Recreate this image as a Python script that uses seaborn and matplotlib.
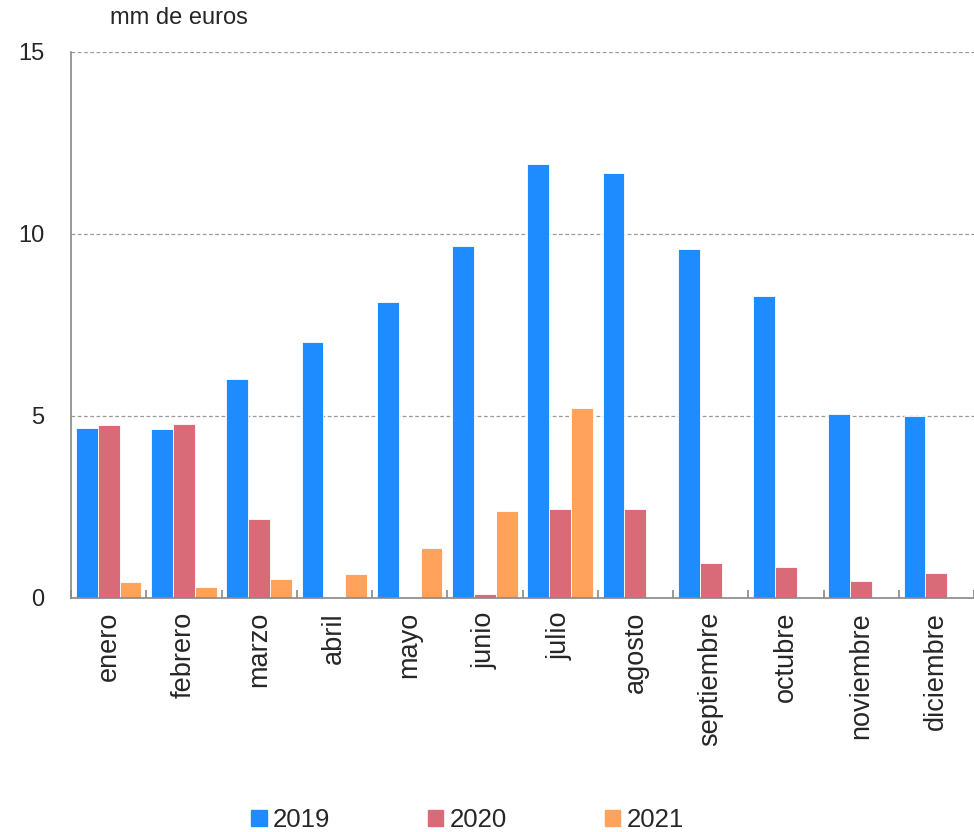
import matplotlib
matplotlib.use("Agg")
import matplotlib.pyplot as plt
import seaborn as sns
import pandas as pd

months = ["enero", "febrero", "marzo", "abril", "mayo", "junio", "julio",
          "agosto", "septiembre", "octubre", "noviembre", "diciembre"]
years = ["2019", "2020", "2021"]
v2019 = [4.67, 4.64, 6.02, 7.03, 8.13, 9.67, 11.92, 11.68, 9.59, 8.30, 5.05, 5.00]
v2020 = [4.75, 4.78, 2.17, 0.0, 0.0, 0.11, 2.45, 2.45, 0.96, 0.85, 0.47, 0.69]
v2021 = [0.44, 0.30, 0.52, 0.66, 1.37, 2.39, 5.22, 0.0, 0.0, 0.0, 0.0, 0.0]
colors = ["#1E8BFF", "#D96B78", "#FFA35C"]

rows = []
for y, vals in zip(years, [v2019, v2020, v2021]):
    for m, v in zip(months, vals):
        rows.append({"mes": m, "año": y, "valor": v})
df = pd.DataFrame(rows)

sns.set_theme(style="white")
plt.rcParams["font.family"] = ["Liberation Sans", "DejaVu Sans"]

fig = plt.figure(figsize=(9.74, 8.32), dpi=100)
ax = fig.add_axes([71/974, 1 - 598/832, (974 - 71)/974, (598 - 52)/832])

sns.barplot(data=df, x="mes", y="valor", hue="año", palette=colors,
            order=months, hue_order=years, width=0.87, ax=ax,
            edgecolor="white", linewidth=0.6, saturation=1, legend=True)

ax.set_xlim(-0.5, 11.5)
ax.set_ylim(0, 15)
ax.set_yticks([0, 5, 10, 15])
ax.set_yticklabels(["0", "5", "10", "15"], fontsize=17)
for y in [5, 10, 15]:
    ax.axhline(y, color="#9a9a9a", linestyle=(0, (3, 2)), linewidth=0.9, zorder=0)

ax.set_xticks([i + 0.5 for i in range(-1, 12)], minor=True)
ax.set_xticks(range(12))
ax.set_xticklabels(months, rotation=90, fontsize=19.5)
ax.tick_params(axis="x", which="major", length=0, pad=10)
ax.tick_params(axis="x", which="minor", direction="in", length=6, width=1.2, color="#888888", bottom=True)
ax.tick_params(axis="y", length=0, pad=19)
ax.set_xlabel("")
ax.set_ylabel("")

for s in ["top", "right"]:
    ax.spines[s].set_visible(False)
for s in ["left", "bottom"]:
    ax.spines[s].set_color("#888888")
    ax.spines[s].set_linewidth(1.2)

fig.text(110/974, 1 - 18/832, "mm de euros", fontsize=17, va="center", ha="left")

ax.get_legend().remove()
handles = [plt.Rectangle((0, 0), 1, 1, color=c) for c in colors]
fig.legend(handles, years, loc="center", bbox_to_anchor=(0.48, 1 - 820/832),
           ncol=3, frameon=False, fontsize=18.5, handlelength=0.6, handleheight=0.6,
           handletextpad=0.25, columnspacing=3.8)

fig.savefig("out.png", dpi=100)
